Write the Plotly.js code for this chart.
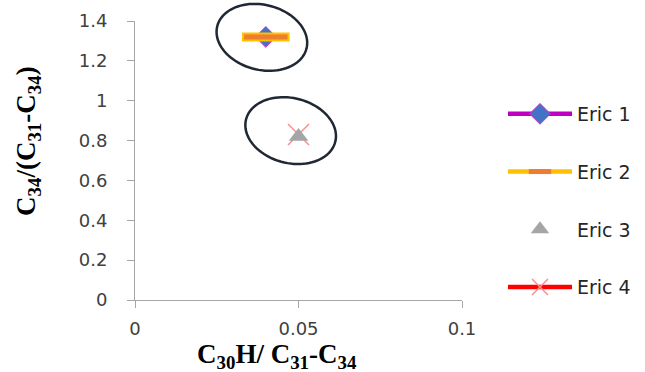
<!DOCTYPE html>
<html>
<head>
<meta charset="utf-8">
<script src="https://cdn.plot.ly/plotly-3.0.1.min.js"></script>
<style>
  html, body { margin: 0; padding: 0; background: #fff; }
  #chart { width: 645px; height: 372px; }
</style>
</head>
<body>
<div id="chart"></div>
<script>
// Series values (C30H / C31-C34 against C34 / (C31-C34))
var seriesNames = ['Eric 1', 'Eric 2', 'Eric 3', 'Eric 4'];
var eric1X = [0.04];
var eric1Y = [1.32];
var eric2X = [0.04];
var eric2Y = [1.32];
var eric3X = [0.05];
var eric3Y = [0.82];
var eric4X = [0.05];
var eric4Y = [0.83];

// Axis ticks
var xTickVals = [0, 0.05, 0.1];
var xTickText = ['0', '0.05', '0.1'];
var yTickVals = [0, 0.2, 0.4, 0.6, 0.8, 1, 1.2, 1.4];
var yTickText = ['0', '0.2', '0.4', '0.6', '0.8', '1', '1.2', '1.4'];

// Centres of the two circled groups
var groupCenterX = [0.0388, 0.0476];
var groupCenterY = [1.318, 0.85];

var W = 645, H = 372;
var M = { l: 135, r: 183, t: 21, b: 72 };
var xRange = [0, 0.1], yRange = [0, 1.4];
var plotW = W - M.l - M.r, plotH = H - M.t - M.b;

// Tilted ellipse around a data point, built in paper coordinates so it
// is not clipped by the plotting area; radii are in screen pixels
function ellipsePath(cx, cy, a, b, deg) {
  var px = (cx - xRange[0]) / (xRange[1] - xRange[0]);
  var py = (cy - yRange[0]) / (yRange[1] - yRange[0]);
  var th = deg * Math.PI / 180, n = 90, d = '';
  for (var i = 0; i <= n; i++) {
    var t = 2 * Math.PI * i / n;
    var dx = a * Math.cos(t) * Math.cos(th) - b * Math.sin(t) * Math.sin(th);
    var dy = a * Math.cos(t) * Math.sin(th) + b * Math.sin(t) * Math.cos(th);
    d += (i === 0 ? 'M' : 'L') + (px + dx / plotW).toFixed(6) + ',' + (py - dy / plotH).toFixed(6);
  }
  return d + 'Z';
}

var traces = [
  {
    name: seriesNames[0], x: eric1X, y: eric1Y, mode: 'lines+markers',
    legendrank: 1, legendgroup: 'g1', cliponaxis: false,
    line: { color: '#C000C0', width: 4.5 },
    marker: { symbol: 'diamond', size: 16, color: '#4472C4', line: { color: '#CC33CC', width: 1 } }
  },
  {
    name: seriesNames[1], x: eric2X, y: eric2Y, mode: 'markers', showlegend: false,
    legendgroup: 'g2', cliponaxis: false,
    marker: { symbol: 'line-ew', size: 34, color: '#FFC000', line: { color: '#FFC000', width: 9 } }
  },
  {
    name: seriesNames[1], x: eric2X, y: eric2Y, mode: 'lines+markers',
    legendrank: 2, legendgroup: 'g2', cliponaxis: false,
    line: { color: '#FFC000', width: 4.5 },
    marker: { symbol: 'line-ew', size: 31, color: '#ED7D31', line: { color: '#ED7D31', width: 5 } }
  },
  {
    name: seriesNames[3], x: eric4X, y: eric4Y, mode: 'lines+markers',
    legendrank: 4, legendgroup: 'g4', cliponaxis: false,
    line: { color: '#FF0000', width: 4.5 },
    marker: { symbol: 'x-thin', size: 21, color: '#FF8C8C', line: { color: '#FF8C8C', width: 1.5 } }
  },
  {
    name: seriesNames[2], x: eric3X, y: eric3Y, mode: 'markers',
    legendrank: 3, legendgroup: 'g3', cliponaxis: false,
    marker: { symbol: 'triangle-up', size: 17, color: '#A5A5A5' }
  }
];

var axisCommon = {
  showgrid: false, zeroline: false, showline: true,
  linecolor: '#A6A6A6', linewidth: 1,
  ticks: 'outside', ticklen: 7, tickwidth: 1, tickcolor: '#A6A6A6',
  tickfont: { family: 'DejaVu Sans, Verdana, sans-serif', size: 18, color: '#404040' },
  tickmode: 'array', fixedrange: true
};

var layout = {
  width: W, height: H,
  margin: M,
  paper_bgcolor: '#ffffff', plot_bgcolor: '#ffffff',
  showlegend: true,
  xaxis: Object.assign({}, axisCommon, {
    range: xRange, tickvals: xTickVals, ticktext: xTickText, ticklabelstandoff: 5
  }),
  yaxis: Object.assign({}, axisCommon, {
    range: yRange, tickvals: yTickVals, ticktext: yTickText, ticklabelstandoff: 16
  }),
  legend: {
    xref: 'container', yref: 'container',
    x: 503 / W, y: 1 - 95 / H, xanchor: 'left', yanchor: 'top',
    traceorder: 'grouped', tracegroupgap: 30,
    itemwidth: 64, maxheight: 330,
    font: { family: 'DejaVu Sans, Verdana, sans-serif', size: 19, color: '#262626' },
    bgcolor: 'rgba(0,0,0,0)'
  },
  shapes: [0, 1].map(function (i) {
    return {
      type: 'path', xref: 'paper', yref: 'paper',
      path: ellipsePath(groupCenterX[i], groupCenterY[i], 46, 32.5, 14),
      line: { color: '#1F2833', width: 2.5 }
    };
  }),
  annotations: [
    {
      xref: 'paper', yref: 'paper', x: (28 - M.l) / plotW, y: (300 - 141) / plotH,
      xanchor: 'center', yanchor: 'middle', showarrow: false, textangle: -90,
      text: 'C<sub>34</sub>/(C<sub>31</sub>-C<sub>34</sub>)',
      font: { family: 'Liberation Serif, Times New Roman, serif', size: 27, color: '#000000', weight: 'bold' }
    },
    {
      xref: 'paper', yref: 'paper', x: (277 - M.l) / plotW, y: -(356 - 300) / plotH,
      xanchor: 'center', yanchor: 'middle', showarrow: false,
      text: 'C<sub>30</sub>H/ C<sub>31</sub>-C<sub>34</sub>',
      font: { family: 'Liberation Serif, Times New Roman, serif', size: 27, color: '#000000', weight: 'bold' }
    }
  ]
};

Plotly.newPlot('chart', traces, layout, { displayModeBar: false, staticPlot: true });
</script>
</body>
</html>
